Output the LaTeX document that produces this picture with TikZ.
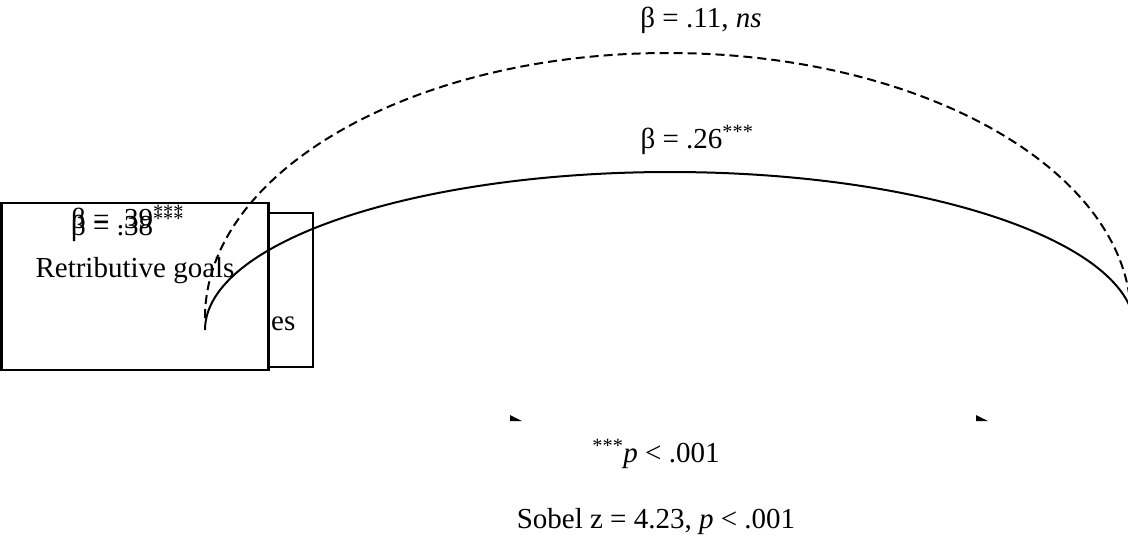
\documentclass[tikz,border=0pt]{standalone}
\usepackage{fontspec}
\setmainfont{Liberation Serif}
\usetikzlibrary{positioning}

\tikzset{
  varbox/.style={draw, line width=2.5pt, inner sep=0pt},
  coef/.style={font=\fontsize{29}{34}\selectfont, inner sep=0pt, anchor=base},
  effect/.style={line width=2pt},
  direct/.style={effect, dash pattern=on 9pt off 5pt},
  tipmark/.style={fill=black}
}
\newcommand{\sigstars}{\textsuperscript{***}}

\begin{document}
\begin{tikzpicture}[x=1pt,y=-1pt]
	\useasboundingbox (0,0) rectangle (1128,542);
	% back box, mostly hidden
	\node[varbox, minimum width=268pt, minimum height=154pt] (med) at (179,290) {};
	\node[coef, anchor=base west] (medtext) at (271,330) {es};
	% front box
	\node[varbox, fill=white, minimum width=267pt, minimum height=167pt] (ret) at (135,286.5) {};
	\node[coef] (retlabel) at (135,277) {Retributive goals};
	\node[coef, anchor=base west] (apath) at (71,228) {β = .39\sigstars};
	\node[coef, anchor=base west] (apathb) at (71,235) {β = .38\sigstars};
	% paths
	\coordinate (totsrc) at (205,330);
	\coordinate (dirsrc) at (205,318);
	\draw[effect] (totsrc) arc[start angle=180, end angle=0, x radius=465pt, y radius=158pt] coordinate (totdst);
	\draw[direct] (dirsrc) arc[start angle=180, end angle=0, x radius=463pt, y radius=265pt] coordinate (dirdst);
	\node[coef] (cdirect) at (701,27) {β = .11, \textit{ns}};
	\node[coef] (ctotal) at (697,148) {β = .26\sigstars};
	% arrow tips
	\foreach \tx in {510,976}
		\fill[tipmark] (\tx,415) -- (\tx+12,421) -- (\tx,421) -- cycle;
	% notes
	\node[coef] (note) at (656,462) {\sigstars\textit{p} < .001};
	\node[coef] (sobel) at (656,528) {Sobel z = 4.23, \textit{p} < .001};
\end{tikzpicture}
\end{document}
